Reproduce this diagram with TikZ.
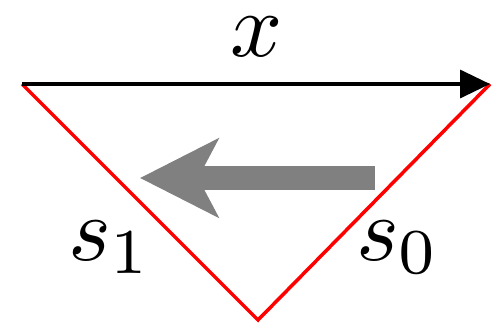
\documentclass[tikz,border=0pt]{standalone}
\usepackage{amsmath,amssymb}
\usetikzlibrary{arrows.meta}

\begin{document}
\begin{tikzpicture}[>=stealth, every node/.style={align=center, scale=5.2, inner sep=0pt}]
      \colorlet{edgered}{red} \colorlet{flowgray}{black!50}
      \useasboundingbox (0, 0) rectangle (9.84, -6.46);

      \coordinate (L) at (0.44, -1.68);
      \coordinate (R) at (9.80, -1.68);
      \coordinate (B) at (5.16, -6.40);
      \draw[edgered, line width=2pt, line join=miter] (L) -- (B) -- (R);
      \draw[black, line width=2pt, -{Triangle[length=0.6cm, width=0.56cm]}] (L) -- (R);

      \coordinate (flowstart) at (7.50, -3.56);
      \coordinate (flowend) at (2.80, -3.56);
      \draw[flowgray, line width=0.48cm, -{Stealth[length=1.56cm, width=1.56cm, inset=0.4cm]}] (flowstart) -- (flowend);

      \node[anchor=base] (xlabel) at (5.14, -1.12) {$x$};
      \node[anchor=base] (sone) at (2.20, -5.20) {$s_1$};
      \node[anchor=base] (szero) at (7.96, -5.20) {$s_0$};
    \end{tikzpicture}
\end{document}
